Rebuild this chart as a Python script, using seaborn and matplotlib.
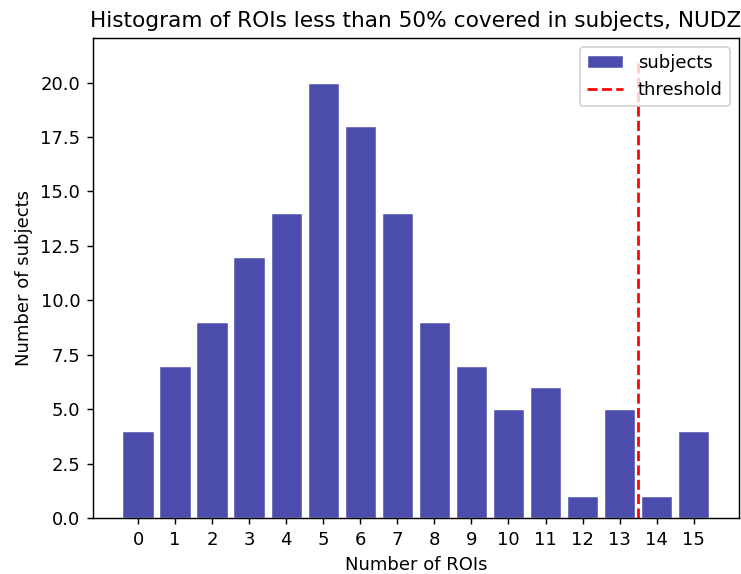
import numpy as np
import pandas as pd
import matplotlib
matplotlib.use("Agg")
import matplotlib.pyplot as plt
import seaborn as sns

# Number of ROIs less than 50% covered, and how many subjects have each count
n_rois = [0, 1, 2, 3, 4, 5, 6, 7, 8, 9, 10, 11, 12, 13, 14, 15]
n_subjects = [4, 7, 9, 12, 14, 20, 18, 14, 9, 7, 5, 6, 1, 5, 1, 4]
threshold = 13.5

df = pd.DataFrame({"rois": n_rois, "subjects": n_subjects})

dpi = 130
fig, ax = plt.subplots(figsize=(741 / dpi, 574 / dpi), dpi=dpi)
fig.subplots_adjust(left=0.1255, right=0.997, top=0.934, bottom=0.0976)

sns.histplot(data=df, x="rois", weights="subjects", discrete=True, shrink=0.85,
             color="darkblue", alpha=0.7, edgecolor="white", linewidth=0.8,
             label="subjects", ax=ax)
ax.vlines(threshold, 0, max(n_subjects) + 1, colors="red", linestyles="--",
          label="threshold")

ax.set_xticks(n_rois)
ax.set_xlabel("Number of ROIs")
ax.set_ylabel("Number of subjects")
ax.set_title("Histogram of ROIs less than 50% covered in subjects, NUDZ")

handles, labels = ax.get_legend_handles_labels()
order = [labels.index("subjects"), labels.index("threshold")]
ax.legend([handles[i] for i in order], [labels[i] for i in order], loc="upper right")

fig.savefig("out.png", dpi=dpi)
